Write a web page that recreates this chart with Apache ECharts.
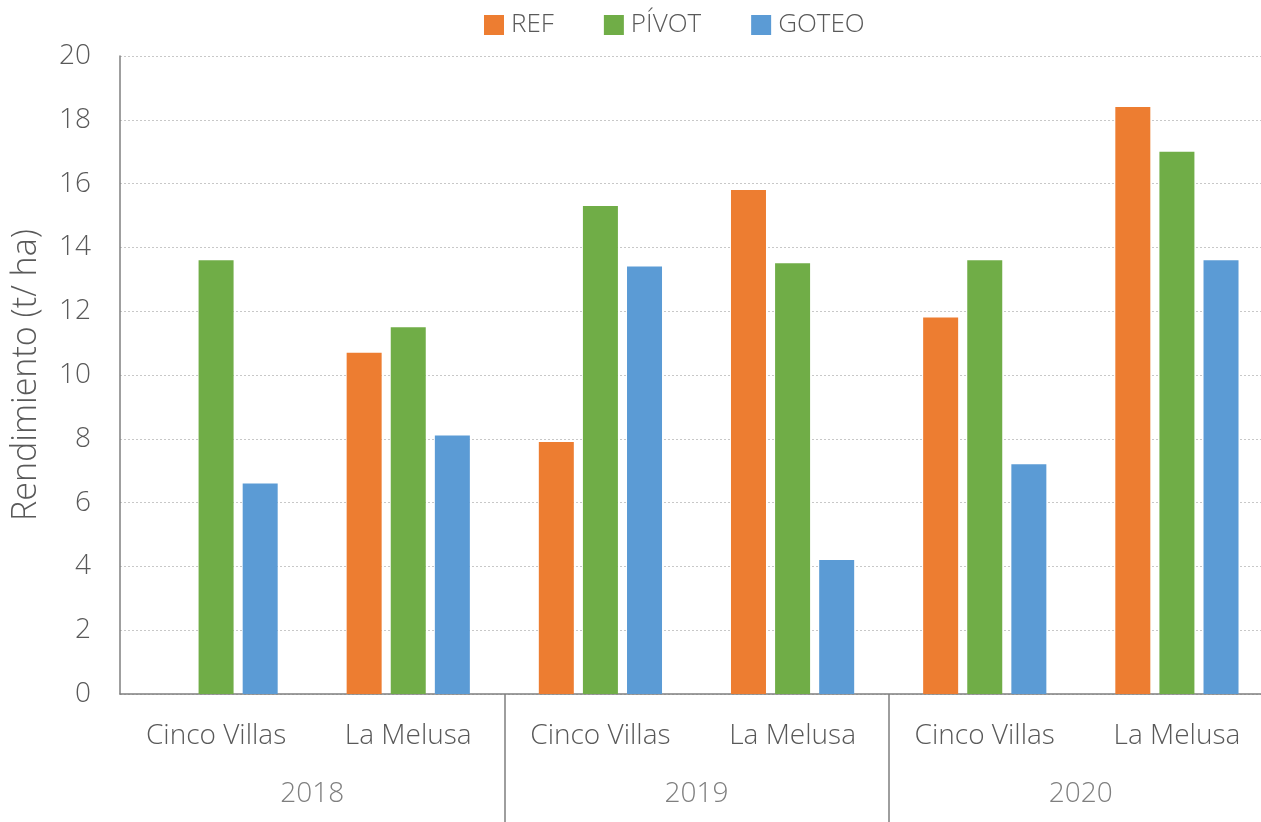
<!DOCTYPE html>
<html>
<head>
<meta charset="utf-8">
<script src="https://cdn.jsdelivr.net/npm/echarts@6/dist/echarts.min.js"></script>
<style>
  html, body { margin: 0; padding: 0; background: #fff; }
  #chart { width: 1261px; height: 822px; }
</style>
</head>
<body>
<div id="chart"></div>
<script>
var sites = ['Cinco Villas', 'La Melusa', 'Cinco Villas', 'La Melusa', 'Cinco Villas', 'La Melusa']
var years = ['2018', '2019', '2020']
var refData = [null, 10.7, 7.9, 15.8, 11.8, 18.4]
var pivotData = [13.6, 11.5, 15.3, 13.5, 13.6, 17.0]
var goteoData = [6.6, 8.1, 13.4, 4.2, 7.2, 13.6]

var font = '"Open Sans", sans-serif'
var textColor = '#595959'

var chart = echarts.init(document.getElementById('chart'))

function barSeries (name, data, color) {
  return {
    name: name,
    type: 'bar',
    data: data,
    barWidth: 35,
    barGap: '26%',
    itemStyle: { color: color },
    xAxisIndex: 0
  }
}

chart.setOption({
  animation: false,
  textStyle: { fontFamily: font },
  legend: {
    left: 479,
    top: 7,
    itemWidth: 20,
    itemHeight: 20,
    itemGap: 50,
    icon: 'rect',
    textStyle: { fontSize: 26, color: textColor, fontFamily: font, fontWeight: 300, padding: [0, 0, 0, 2] },
    data: ['REF', 'PÍVOT', 'GOTEO']
  },
  // plot area runs a little past the right edge, as in the original
  grid: { left: 120, top: 56, bottom: 128, width: 1153, containLabel: false, outerBoundsMode: 'none' },
  xAxis: [
    {
      type: 'category',
      data: sites,
      position: 'bottom',
      axisLine: { lineStyle: { color: '#7f7f7f', width: 1.5 } },
      axisTick: { show: false },
      axisLabel: { margin: 28, fontSize: 28, color: textColor, fontWeight: 300 }
    },
    {
      type: 'category',
      data: years,
      position: 'bottom',
      axisLine: { show: false },
      axisTick: {
        show: true,
        length: 130,
        interval: function (index) { return index > 0 },
        lineStyle: { color: '#7f7f7f', width: 1.5 }
      },
      axisLabel: { margin: 86, fontSize: 28, color: '#7f7f7f', fontWeight: 300 }
    }
  ],
  yAxis: {
    type: 'value',
    min: 0,
    max: 20,
    interval: 2,
    name: 'Rendimiento (t/ ha)',
    nameLocation: 'middle',
    nameGap: 77,
    nameTextStyle: { fontSize: 34, color: textColor, fontWeight: 300 },
    axisLine: { show: true, lineStyle: { color: '#7f7f7f', width: 1.5 } },
    axisTick: { show: false },
    axisLabel: { margin: 29, fontSize: 28, color: textColor, fontWeight: 300 },
    splitLine: { lineStyle: { color: '#c8c8c8', type: [2, 2], width: 1 } }
  },
  series: [
    barSeries('REF', refData, '#ED7D31'),
    barSeries('PÍVOT', pivotData, '#70AD47'),
    barSeries('GOTEO', goteoData, '#5B9BD5')
  ]
})
</script>
</body>
</html>
